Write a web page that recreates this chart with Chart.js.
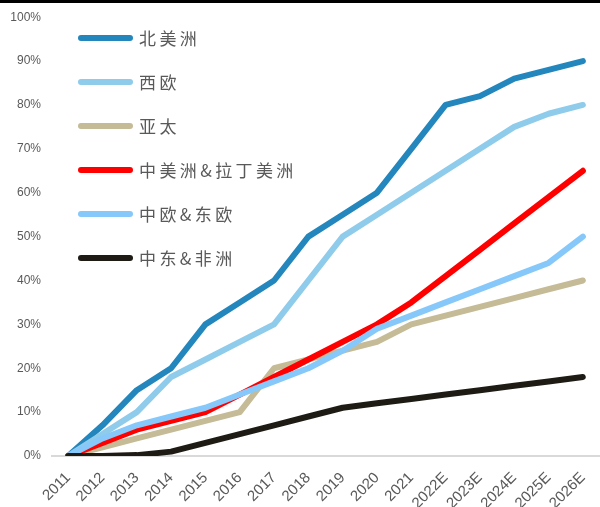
<!DOCTYPE html>
<html>
<head>
<meta charset="utf-8">
<script src="https://cdn.jsdelivr.net/npm/chart.js@4/dist/chart.umd.min.js"></script>
<style>
  html, body { margin: 0; padding: 0; background: #fff; }
  #wrap { width: 600px; height: 507px; position: relative; }
</style>
</head>
<body>
<div id="wrap"><canvas id="penetration"></canvas></div>
<script>
// years, 2022 onward are estimates
const years = ['2011', '2012', '2013', '2014', '2015', '2016', '2017', '2018', '2019', '2020',
               '2021', '2022E', '2023E', '2024E', '2025E', '2026E'];

// regional share (%) per year
const northAmerica  = [0, 7, 15, 20, 30, 35, 40, 50, 55, 60, 70, 80, 82, 86, 88, 90];
const westernEurope = [0, 5, 10, 18, 22, 26, 30, 40, 50, 55, 60, 65, 70, 75, 78, 80];
const asiaPacific   = [0, 2, 4, 6, 8, 10, 20, 22, 24, 26, 30, 32, 34, 36, 38, 40];
const latinAmerica  = [0, 3, 6, 8, 10, 14, 18, 22, 26, 30, 35, 41, 47, 53, 59, 65];
const easternEurope = [0, 4, 7, 9, 11, 14, 17, 20, 24, 29, 32, 35, 38, 41, 44, 50];
const mideastAfrica = [0, 0, 0.2, 1, 3, 5, 7, 9, 11, 12, 13, 14, 15, 16, 17, 18];

const seriesNames  = ['北美洲', '西欧', '亚太', '中美洲&拉丁美洲', '中欧&东欧', '中东&非洲'];
const seriesData   = [northAmerica, westernEurope, asiaPacific, latinAmerica, easternEurope, mideastAfrica];
const seriesColors = ['#2386bc', '#8fcbeb', '#c5bb96', '#ff0000', '#86c8fa', '#1e1b14'];

const yTicks = [0, 10, 20, 30, 40, 50, 60, 70, 80, 90, 100];

const textGray = '#595959';

// later series are painted on top of earlier ones
const datasets = seriesNames.map((name, i) => ({
  label: name,
  data: seriesData[i],
  borderColor: seriesColors[i],
  backgroundColor: seriesColors[i],
  borderWidth: 6,
  borderCapStyle: 'round',
  borderJoinStyle: 'round',
  tension: 0,
  pointRadius: 0,
  fill: false,
  order: seriesNames.length - i,
}));

// vertical legend inside the plot plus the black rule along the top
const decorations = {
  id: 'decorations',
  afterDraw(chart) {
    const ctx = chart.ctx;
    ctx.save();
    ctx.fillStyle = '#000';
    ctx.fillRect(0, 0, chart.width, 3);

    const x0 = 81, x1 = 130, top = 38, step = 44;
    ctx.font = '17px "Noto Sans CJK SC", "Noto Sans", sans-serif';
    ctx.letterSpacing = '3.4px';
    ctx.textBaseline = 'middle';
    ctx.lineCap = 'round';
    ctx.lineWidth = 6;
    seriesNames.forEach((name, i) => {
      const y = top + i * step;
      ctx.strokeStyle = seriesColors[i];
      ctx.beginPath();
      ctx.moveTo(x0, y);
      ctx.lineTo(x1, y);
      ctx.stroke();
      ctx.fillStyle = textGray;
      ctx.fillText(name, 139, y + 1);
    });
    ctx.restore();
  }
};

const ctx = document.getElementById('penetration').getContext('2d');
new Chart(ctx, {
  type: 'line',
  data: { labels: years, datasets: datasets },
  plugins: [decorations],
  options: {
    responsive: true,
    maintainAspectRatio: false,
    animation: false,
    layout: { padding: { top: 16, right: 0, left: 0, bottom: 0 } },
    plugins: {
      legend: { display: false },
      tooltip: { enabled: false },
    },
    scales: {
      x: {
        type: 'category',
        offset: true,
        grid: { display: false, drawTicks: false },
        border: { display: false },
        ticks: {
          color: textGray,
          font: { family: '"Liberation Sans", Arial, sans-serif', size: 15 },
          minRotation: 45,
          maxRotation: 45,
          padding: 13,
          autoSkip: false,
        },
        afterFit(scale) {
          scale.height = 51;
          // rotated labels hang left of their ticks, keep the plot full width
          scale.paddingLeft = 0;
          scale.paddingRight = 0;
        },
      },
      y: {
        min: 0,
        max: 100,
        afterBuildTicks(scale) { scale.ticks = yTicks.map(v => ({ value: v })); },
        grid: {
          drawTicks: false,
          lineWidth: 2,
          color: c => (c.tick && c.tick.value === 0 ? '#d9d9d9' : 'rgba(0,0,0,0)'),
        },
        border: { display: false },
        ticks: {
          color: textGray,
          font: { family: '"Liberation Sans", Arial, sans-serif', size: 12 },
          padding: 10,
          callback: v => v + '%',
        },
        afterFit(scale) { scale.width = 51; },
      },
    },
  },
});
</script>
</body>
</html>
